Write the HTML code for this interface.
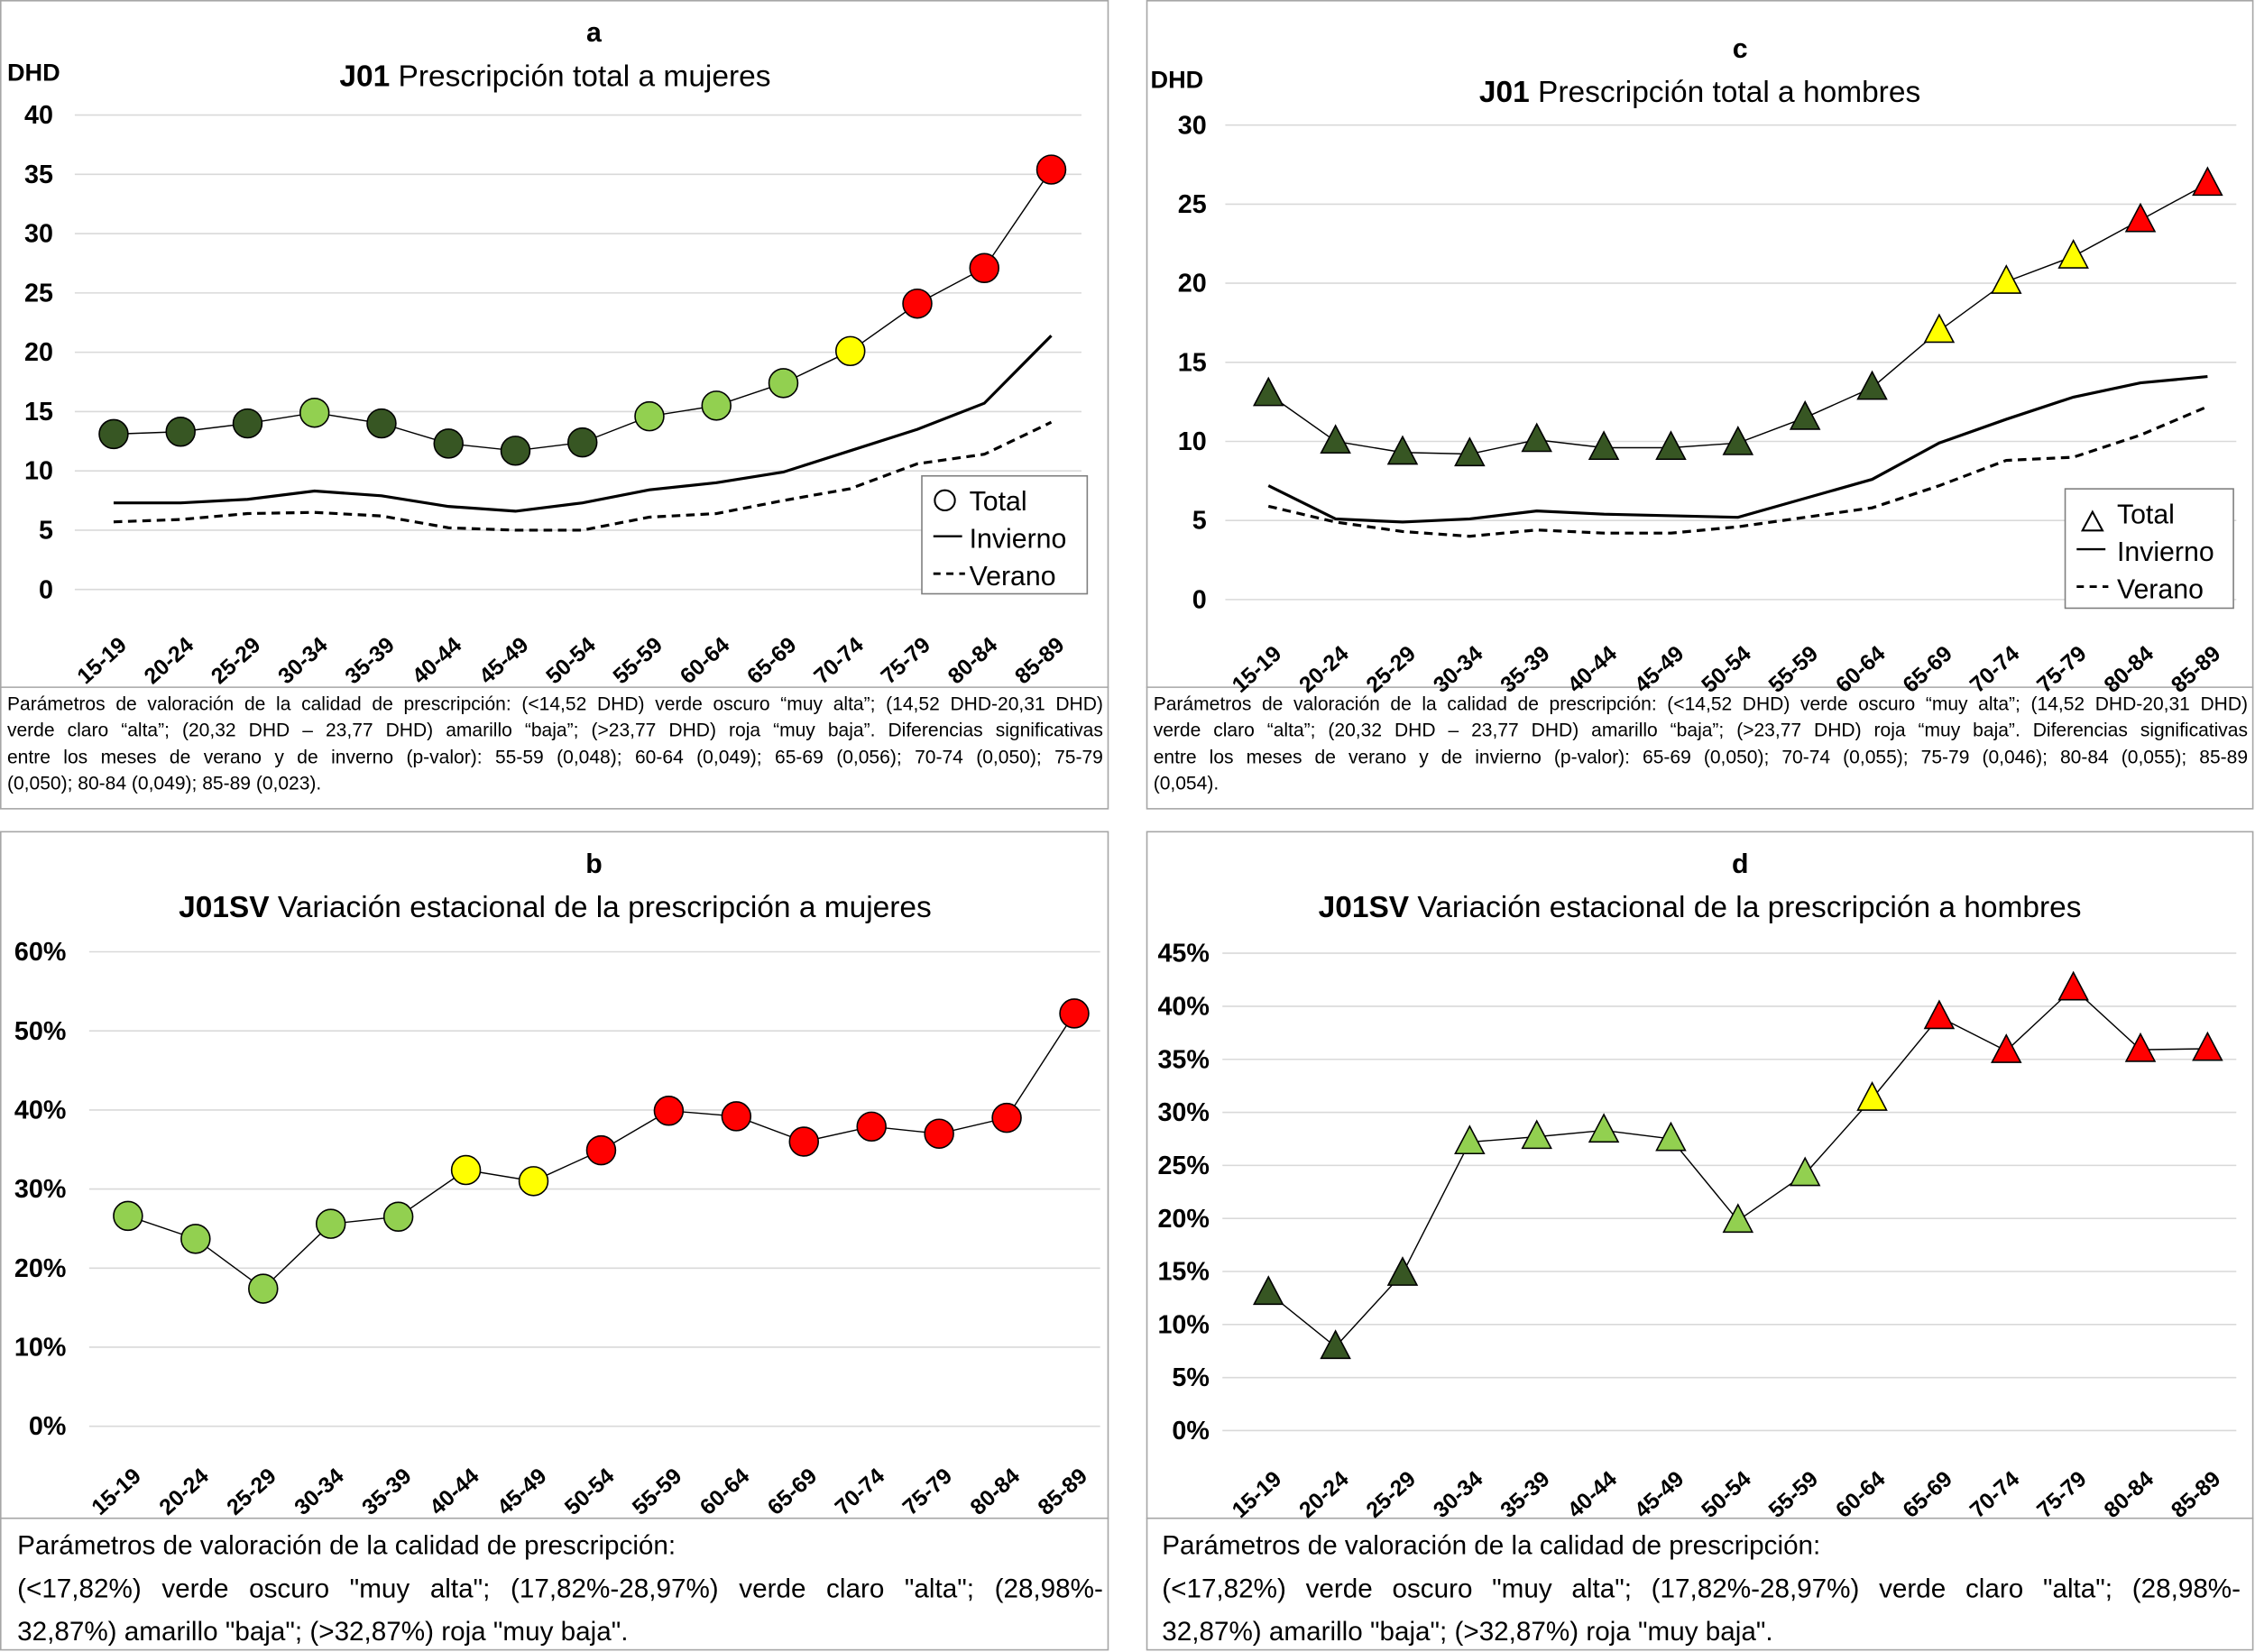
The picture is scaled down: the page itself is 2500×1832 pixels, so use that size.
<!DOCTYPE html>
<html><head><meta charset="utf-8"><style>
html,body{margin:0;padding:0;background:#fff;}
svg{display:block;font-family:"Liberation Sans",Arial,sans-serif;}
.p{font-family:"Liberation Sans",Arial,sans-serif;color:#000;margin:0;}
.p div{white-space:nowrap;}
.j{text-align:justify;text-align-last:justify;}
</style></head><body>
<svg id="s" width="2500" height="1832" viewBox="0 0 1568 1149" preserveAspectRatio="none" xmlns="http://www.w3.org/2000/svg">
<rect x="0" y="0" width="1568" height="1149" fill="#fff"/>
<rect x="0.5" y="0.5" width="770" height="562" fill="none" stroke="#a6a6a6"/>
<line x1="0" y1="478" x2="771" y2="478" stroke="#a6a6a6"/>
<rect x="797.5" y="0.5" width="769" height="562" fill="none" stroke="#a6a6a6"/>
<line x1="797" y1="478" x2="1567" y2="478" stroke="#a6a6a6"/>
<rect x="0.5" y="578.5" width="770" height="569" fill="none" stroke="#a6a6a6"/>
<line x1="0" y1="1056" x2="771" y2="1056" stroke="#a6a6a6"/>
<rect x="797.5" y="578.5" width="769" height="569" fill="none" stroke="#a6a6a6"/>
<line x1="797" y1="1056" x2="1567" y2="1056" stroke="#a6a6a6"/>

<text x="413" y="29" font-size="19" font-weight="bold" text-anchor="middle">a</text>
<text x="386" y="60" font-size="21" text-anchor="middle"><tspan font-weight="bold">J01</tspan> Prescripción total a mujeres</text>
<text x="5" y="56" font-size="17" font-weight="bold">DHD</text>
<text x="1210" y="40" font-size="19" font-weight="bold" text-anchor="middle">c</text>
<text x="1182" y="71" font-size="21" text-anchor="middle"><tspan font-weight="bold">J01</tspan> Prescripción total a hombres</text>
<text x="800" y="61" font-size="17" font-weight="bold">DHD</text>
<text x="413" y="607" font-size="19" font-weight="bold" text-anchor="middle">b</text>
<text x="386" y="638" font-size="21" text-anchor="middle"><tspan font-weight="bold">J01SV</tspan> Variación estacional de la prescripción a mujeres</text>
<text x="1210" y="607" font-size="19" font-weight="bold" text-anchor="middle">d</text>
<text x="1182" y="638" font-size="21" text-anchor="middle"><tspan font-weight="bold">J01SV</tspan> Variación estacional de la prescripción a hombres</text>

<foreignObject x="5" y="481" width="762" height="80"><div xmlns="http://www.w3.org/1999/xhtml" class="p" style="font-size:13.2px;line-height:18.4px;">
<div class="j">Parámetros de valoración de la calidad de prescripción: (&lt;14,52 DHD) verde oscuro “muy alta”; (14,52 DHD-20,31 DHD)</div>
<div class="j">verde claro “alta”; (20,32 DHD – 23,77 DHD) amarillo “baja”; (&gt;23,77 DHD) roja “muy baja”. Diferencias significativas</div>
<div class="j">entre los meses de verano y de inverno (p-valor): 55-59 (0,048); 60-64 (0,049); 65-69 (0,056); 70-74 (0,050); 75-79</div>
<div>(0,050); 80-84 (0,049); 85-89 (0,023).</div></div></foreignObject>
<foreignObject x="802" y="481" width="761" height="80"><div xmlns="http://www.w3.org/1999/xhtml" class="p" style="font-size:13.2px;line-height:18.4px;">
<div class="j">Parámetros de valoración de la calidad de prescripción: (&lt;14,52 DHD) verde oscuro “muy alta”; (14,52 DHD-20,31 DHD)</div>
<div class="j">verde claro “alta”; (20,32 DHD – 23,77 DHD) amarillo “baja”; (&gt;23,77 DHD) roja “muy baja”. Diferencias significativas</div>
<div class="j">entre los meses de verano y de invierno (p-valor): 65-69 (0,050); 70-74 (0,055); 75-79 (0,046); 80-84 (0,055); 85-89</div>
<div>(0,054).</div></div></foreignObject>
<foreignObject x="12" y="1060" width="755" height="88"><div xmlns="http://www.w3.org/1999/xhtml" class="p" style="font-size:18.6px;line-height:30px;">
<div>Parámetros de valoración de la calidad de prescripción:</div>
<div class="j">(&lt;17,82%) verde oscuro "muy alta"; (17,82%-28,97%) verde claro "alta"; (28,98%-</div>
<div>32,87%) amarillo "baja"; (&gt;32,87%) roja "muy baja".</div></div></foreignObject>
<foreignObject x="808" y="1060" width="750" height="88"><div xmlns="http://www.w3.org/1999/xhtml" class="p" style="font-size:18.6px;line-height:30px;">
<div>Parámetros de valoración de la calidad de prescripción:</div>
<div class="j">(&lt;17,82%) verde oscuro "muy alta"; (17,82%-28,97%) verde claro "alta"; (28,98%-</div>
<div>32,87%) amarillo "baja"; (&gt;32,87%) roja "muy baja".</div></div></foreignObject>
<g id="charts"></g>
</svg>
<script>
const categories = ["15-19","20-24","25-29","30-34","35-39","40-44","45-49","50-54","55-59","60-64","65-69","70-74","75-79","80-84","85-89"];
const aTotal = [13.1,13.3,14.0,14.9,14.0,12.3,11.7,12.4,14.6,15.5,17.4,20.1,24.1,27.1,35.4];
const aInvierno = [7.3,7.3,7.6,8.3,7.9,7.0,6.6,7.3,8.4,9.0,9.9,11.7,13.5,15.7,21.4];
const aVerano = [5.7,5.9,6.4,6.5,6.2,5.2,5.0,5.0,6.1,6.4,7.5,8.5,10.6,11.4,14.1];
const aClass = ["d","d","d","l","d","d","d","d","l","l","l","y","r","r","r"];
const cTotal = [13.0,10.0,9.3,9.2,10.1,9.6,9.6,9.9,11.5,13.4,17.0,20.1,21.7,24.0,26.3];
const cInvierno = [7.2,5.1,4.9,5.1,5.6,5.4,5.3,5.2,6.4,7.6,9.9,11.4,12.8,13.7,14.1];
const cVerano = [5.9,4.9,4.3,4.0,4.4,4.2,4.2,4.6,5.2,5.8,7.2,8.8,9.0,10.4,12.2];
const cClass = ["d","d","d","d","d","d","d","d","d","d","y","y","y","r","r"];
const bValues = [26.6,23.7,17.4,25.6,26.5,32.4,31.0,34.9,39.9,39.2,36.0,37.9,37.0,39.0,52.2];
const bClass = ["l","l","l","l","l","y","y","r","r","r","r","r","r","r","r"];
const dValues = [13.0,7.9,14.8,27.2,27.7,28.3,27.5,19.8,24.2,31.3,39.0,35.8,41.7,35.9,36.0];
const dClass = ["d","d","d","l","l","l","l","l","l","y","r","r","r","r","r"];
const aTicks = [0,5,10,15,20,25,30,35,40];
const cTicks = [0,5,10,15,20,25,30];
const bTicks = [0,10,20,30,40,50,60];
const dTicks = [0,5,10,15,20,25,30,35,40,45];

const NS="http://www.w3.org/2000/svg";
const root=document.getElementById('charts');
const COL={d:"#375623",l:"#92D050",y:"#FFFF00",r:"#FF0000"};
function mk(tag,attrs,parent){const e=document.createElementNS(NS,tag);for(const k in attrs)e.setAttribute(k,attrs[k]);(parent||root).appendChild(e);return e;}

function chart(o){
  const g=mk('g',{});
  
  
  const max=o.ticks[o.ticks.length-1];
  const y=v=>o.y0-(o.y0-o.yTop)*v/max;
  const x=i=>o.x0+(o.x1-o.x0)*i/(categories.length-1);
  o.ticks.forEach(t=>{
    const gl=mk('line',{x1:o.gx0,x2:o.gx1,y1:y(t),y2:y(t),stroke:"#d9d9d9","stroke-width":1},g);
    
    
    const tl=mk('text',{x:o.tx,y:y(t)+6,"font-size":18,"font-weight":"bold","text-anchor":"end"},g);
    tl.textContent=t+(o.pct?"%":"");
    
    
  });
  categories.forEach((c,i)=>{
    const tx=x(i)+10, ty=o.labY;
    const t=mk('text',{x:tx,y:ty,"font-size":15.5,"font-weight":"bold","text-anchor":"end",transform:`rotate(-42 ${tx} ${ty})`},g);
    t.textContent=c;
    
    
  });
  (o.lines||[]).forEach(L=>{
    const p=mk('polyline',{points:L.v.map((v,i)=>x(i)+","+y(v)).join(" "),fill:"none",stroke:"#000","stroke-width":L.w,"stroke-dasharray":L.dash||"none"},g);
    
    
  });
  const tl=mk('polyline',{points:o.vals.map((v,i)=>x(i)+","+y(v)).join(" "),fill:"none",stroke:"#000","stroke-width":0.9},g);
  
  
  o.vals.forEach((v,i)=>{
    let m;
    if(o.tri){
      const cx=x(i),cy=y(v);
      m=mk('polygon',{points:`${cx},${cy-11} ${cx-10},${cy+8} ${cx+10},${cy+8}`,fill:COL[o.cls[i]],stroke:"#000","stroke-width":1},g);
    } else {
      m=mk('circle',{cx:x(i),cy:y(v),r:10,fill:COL[o.cls[i]],stroke:"#000","stroke-width":1},g);
    }
    
    
  });
}
chart({name:'chart-a',ticks:aTicks,y0:410,yTop:80,x0:79,x1:731,gx0:52,gx1:752,tx:37,labY:450,vals:aTotal,cls:aClass,
  lines:[{v:aInvierno,w:2,name:'invierno-line'},{v:aVerano,w:2,dash:"6,4",name:'verano-line'}]});
chart({name:'chart-c',ticks:cTicks,y0:417,yTop:87,x0:882,x1:1535,gx0:852,gx1:1555,tx:839,labY:456,vals:cTotal,cls:cClass,tri:true,
  lines:[{v:cInvierno,w:2,name:'invierno-line'},{v:cVerano,w:2,dash:"6,4",name:'verano-line'}]});
chart({name:'chart-b',ticks:bTicks,y0:992,yTop:662,x0:89,x1:747,gx0:62,gx1:765,tx:46,labY:1028,vals:bValues,cls:bClass,pct:true});
chart({name:'chart-d',ticks:dTicks,y0:995,yTop:663,x0:882,x1:1535,gx0:850,gx1:1555,tx:841,labY:1030,vals:dValues,cls:dClass,tri:true,pct:true});

function legend(name,x,y,w,h,tri){
  const g=mk('g',{});
  
  
  mk('rect',{x:x,y:y,width:w,height:h,fill:"#fff",stroke:"#7f7f7f"},g);
  if(tri) mk('polygon',{points:`${x+19},${y+16} ${x+12},${y+29} ${x+26},${y+29}`,fill:"#fff",stroke:"#000","stroke-width":1.3},g);
  else mk('circle',{cx:x+16,cy:y+17,r:7,fill:"#fff",stroke:"#000","stroke-width":1.3},g);
  mk('line',{x1:x+8,x2:x+28,y1:y+42,y2:y+42,stroke:"#000","stroke-width":1.5},g);
  mk('line',{x1:x+8,x2:x+30,y1:y+68,y2:y+68,stroke:"#000","stroke-width":1.8,"stroke-dasharray":"5,4"},g);
  const labels=["Total","Invierno","Verano"];
  labels.forEach((l,i)=>{const t=mk('text',{x:x+(tri?36:33),y:y+24+i*26,"font-size":19},g);t.textContent=l;
    
    });
}
legend('legend-a',641,331,115,82,false);
legend('legend-c',1436,340,117,83,true);
</script>
</body></html>
